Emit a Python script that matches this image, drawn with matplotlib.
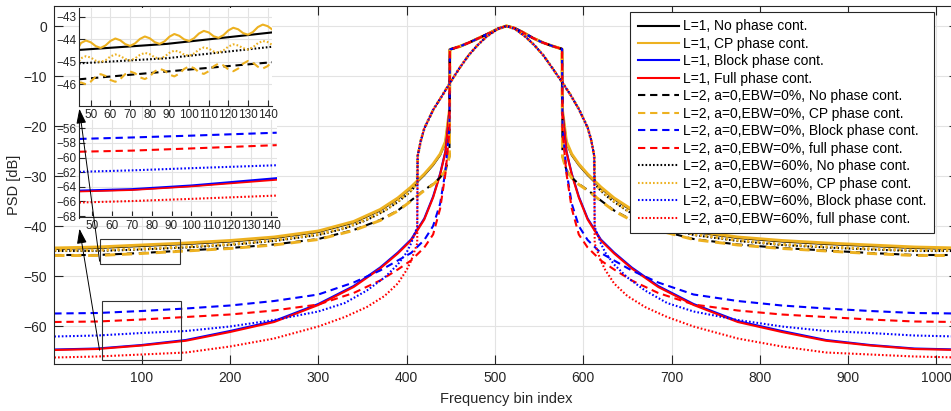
import matplotlib
matplotlib.use('Agg')
import matplotlib.pyplot as plt
from matplotlib.patches import Rectangle, FancyArrowPatch

plt.rcParams['font.family'] = ['Liberation Sans', 'DejaVu Sans']

# L=1 and L=2 EBW=0% curves share the narrow main lobe (edges at 449 / 576)
xa = [1, 50, 100, 150, 200, 250, 300, 340, 370, 390, 405, 420, 430, 438, 444, 448.5,
      449, 460, 471, 482, 494, 504, 513, 522, 532, 543, 554, 565, 576,
      576.5, 581, 587, 595, 605, 620, 635, 655, 685, 725, 775, 825, 875, 925, 975, 1024]
lobe_a = [-4.7, -4.1, -3.3, -2.4, -1.4, -0.5, 0, -0.4, -1.3, -2.4, -3.3, -4.0, -4.6]

k1_l = [-44.6, -44.4, -44.0, -43.6, -43.1, -42.4, -41.2, -39.3, -36.9, -34.6, -32.4, -29.8, -27.8, -25.8, -23.3, -17.0]
k1_r = [-17.0, -23.3, -25.8, -27.8, -29.8, -32.4, -34.6, -36.9, -39.3, -41.2, -42.4, -43.1, -43.6, -44.0, -44.4, -44.6]
y1_l = [-44.4, -44.2, -43.8, -43.4, -42.9, -42.2, -41.0, -39.1, -36.7, -34.4, -32.2, -29.6, -27.6, -25.6, -23.1, -16.8]
y1_r = [-16.8, -23.1, -25.6, -27.6, -29.6, -32.2, -34.4, -36.7, -39.1, -41.0, -42.2, -42.9, -43.4, -43.8, -44.2, -44.4]
b1_l = [-64.7, -64.5, -63.8, -62.8, -61.0, -59.0, -55.6, -52.0, -48.3, -45.3, -42.7, -38.5, -34.1, -29.5, -25.0, -17.0]
b1_r = [-17.0, -25.0, -29.5, -34.1, -38.5, -42.7, -45.3, -48.3, -52.0, -55.6, -59.0, -61.0, -62.8, -63.8, -64.5, -64.7]
r1_l = [-64.8, -64.6, -63.9, -62.95, -61.2, -59.2, -55.8, -52.2, -48.5, -45.5, -42.9, -38.7, -34.3, -29.7, -25.2, -17.0]
r1_r = [-17.0, -25.2, -29.7, -34.3, -38.7, -42.9, -45.5, -48.5, -52.2, -55.8, -59.2, -61.2, -62.95, -63.9, -64.6, -64.8]
k2_l = [-45.8, -45.8, -45.4, -44.9, -44.4, -43.7, -42.6, -40.8, -38.8, -36.9, -34.9, -32.8, -31.6, -30.3, -28.8, -26.0]
k2_r = [-26.0, -28.8, -30.3, -31.6, -32.8, -34.9, -36.9, -38.8, -40.8, -42.6, -43.7, -44.4, -44.9, -45.4, -45.8, -45.8]
y2_l = [-45.9, -45.9, -45.5, -45.0, -44.5, -43.8, -42.7, -40.9, -38.9, -37.0, -35.0, -32.9, -31.7, -30.4, -28.9, -26.1]
y2_r = [-26.1, -28.9, -30.4, -31.7, -32.9, -35.0, -37.0, -38.9, -40.9, -42.7, -43.8, -44.5, -45.0, -45.5, -45.9, -45.9]
b2_l = [-57.5, -57.4, -57.0, -56.5, -55.9, -55.0, -53.7, -51.3, -48.9, -46.9, -45.4, -42.8, -40.0, -35.5, -29.0, -20.0]
b2_r = [-20.0, -29.0, -35.5, -40.0, -42.8, -45.4, -46.9, -48.9, -51.3, -53.7, -55.0, -55.9, -56.5, -57.0, -57.4, -57.5]
r2_l = [-59.2, -59.1, -58.7, -58.2, -57.7, -56.9, -55.7, -53.4, -50.9, -48.7, -46.9, -44.3, -41.7, -36.5, -29.5, -21.0]
r2_r = [-21.0, -29.5, -36.5, -41.7, -44.3, -46.9, -48.7, -50.9, -53.4, -55.7, -56.9, -57.7, -58.2, -58.7, -59.1, -59.2]

# L=2 EBW=60% curves: wider main lobe (edges at 412.5 / 612.5)
xb = [1, 50, 100, 150, 200, 250, 300, 330, 355, 375, 390, 400, 405, 409, 412,
      412.5, 416, 420, 430, 440, 449, 460, 470, 480, 490, 502, 513, 523, 535, 545, 555, 565, 576, 585, 595, 605, 609, 612.5,
      613, 616, 620, 625, 635, 650, 670, 695, 725, 775, 825, 875, 925, 975, 1024]
lobe_b = [-26.0, -23.0, -20.5, -16.8, -14.0, -11.4, -8.4, -5.9, -3.9, -2.2, -0.7, 0, -0.6, -2.2, -3.9, -5.9,
          -8.4, -11.2, -13.6, -16.6, -20.3, -22.8, -26.0]

k3_l = [-45.0, -45.0, -44.7, -44.3, -43.8, -43.0, -41.8, -40.5, -38.8, -37.0, -35.2, -33.8, -33.0, -32.2, -31.4]
k3_r = [-31.4, -32.2, -33.0, -33.8, -35.2, -37.0, -38.8, -40.5, -41.8, -43.0, -43.8, -44.3, -44.7, -45.0, -45.0]
y3_l = [-44.85, -44.85, -44.55, -44.15, -43.65, -42.85, -41.65, -40.35, -38.65, -36.85, -35.05, -33.65, -32.85, -32.05, -31.25]
y3_r = [-31.25, -32.05, -32.85, -33.65, -35.05, -36.85, -38.65, -40.35, -41.65, -42.85, -43.65, -44.15, -44.55, -44.85, -44.85]
b3_l = [-62.1, -61.9, -61.4, -61.0, -60.1, -58.8, -57.1, -55.4, -52.9, -50.3, -47.7, -45.3, -43.5, -41.6, -40.2]
b3_r = [-40.2, -41.6, -43.5, -45.3, -47.7, -50.3, -52.9, -55.4, -57.1, -58.8, -60.1, -61.0, -61.4, -61.9, -62.1]
r3_l = [-66.3, -66.1, -65.7, -65.3, -64.1, -62.5, -60.1, -58.2, -56.2, -54.0, -51.5, -48.8, -47.0, -45.0, -43.5]
r3_r = [-43.5, -45.0, -47.0, -48.8, -51.5, -54.0, -56.2, -58.2, -60.1, -62.5, -64.1, -65.3, -65.7, -66.1, -66.3]

# upper inset (bins 44..142), black curves smooth, CP curves ripple
xi1s = [44, 88.7, 142.2]
k1_i = [-44.47, -44.2, -43.69]
k2_i = [-45.78, -45.433, -45.018]
k3_i = [-45.07, -44.84, -44.328]
xi1 = [44, 45, 47.5, 50, 52.5, 55, 57.5, 60, 62.5, 65, 67.5, 70, 72.5, 75, 77.5, 80, 82.5, 85, 87.5, 90,
       92.5, 95, 97.5, 100, 102.5, 105, 107.5, 110, 112.5, 115, 117.5, 120, 122.5, 125, 127.5, 130,
       132.5, 135, 137.5, 140, 142.2]
y1_i = [-44.32, -44.16, -44.05, -44.13, -44.30, -44.38, -44.27, -44.07, -43.96, -44.04, -44.21, -44.29,
        -44.18, -43.98, -43.87, -43.95, -44.12, -44.20, -44.09, -43.88, -43.76, -43.84, -44.00, -44.07,
        -43.95, -43.74, -43.62, -43.69, -43.86, -43.93, -43.81, -43.60, -43.48, -43.55, -43.72, -43.79,
        -43.67, -43.45, -43.34, -43.41, -43.55]
y2_i = [-45.95, -45.92, -46.00, -45.88, -45.66, -45.55, -45.63, -45.81, -45.89, -45.77, -45.55, -45.43,
        -45.51, -45.69, -45.77, -45.65, -45.43, -45.31, -45.39, -45.57, -45.65, -45.53, -45.32, -45.20,
        -45.28, -45.46, -45.54, -45.42, -45.20, -45.08, -45.16, -45.34, -45.42, -45.30, -45.08, -44.96,
        -45.04, -45.22, -45.30, -45.19, -44.99]
y3_i = [-44.97, -44.84, -44.75, -44.81, -44.95, -45.01, -44.93, -44.76, -44.67, -44.74, -44.87, -44.94,
        -44.85, -44.69, -44.60, -44.66, -44.80, -44.86, -44.77, -44.60, -44.50, -44.55, -44.68, -44.73,
        -44.63, -44.46, -44.36, -44.41, -44.54, -44.59, -44.49, -44.32, -44.22, -44.27, -44.39, -44.45,
        -44.35, -44.17, -44.07, -44.12, -44.24]

# lower inset
xi2 = [43.5, 70, 100, 143]
b1_i = [-64.55, -64.35, -63.85, -62.85]
r1_i = [-64.65, -64.45, -63.95, -63.05]
b2_i = [-57.45, -57.25, -57.0, -56.6]
r2_i = [-59.2, -59.05, -58.75, -58.3]
b3_i = [-61.95, -61.75, -61.45, -61.05]
r3_i = [-66.15, -65.95, -65.65, -65.2]

labels = ['L=1, No phase cont.', 'L=1, CP phase cont.', 'L=1, Block phase cont.', 'L=1, Full phase cont.',
          'L=2, a=0,EBW=0%, No phase cont.', 'L=2, a=0,EBW=0%, CP phase cont.',
          'L=2, a=0,EBW=0%, Block phase cont.', 'L=2, a=0,EBW=0%, full phase cont.',
          'L=2, a=0,EBW=60%, No phase cont.', 'L=2, a=0,EBW=60%, CP phase cont.',
          'L=2, a=0,EBW=60%, Block phase cont.', 'L=2, a=0,EBW=60%, full phase cont.']

K = 'black'
Y = '#EDB120'
B = 'blue'
R = 'red'
dash = (0, (3.5, 2.3))
dot = (0, (0.8, 1.0))

series = [(xa, k1_l + lobe_a + k1_r, K, '-'), (xa, y1_l + lobe_a + y1_r, Y, '-'),
          (xa, b1_l + lobe_a + b1_r, B, '-'), (xa, r1_l + lobe_a + r1_r, R, '-'),
          (xa, k2_l + lobe_a + k2_r, K, dash), (xa, y2_l + lobe_a + y2_r, Y, dash),
          (xa, b2_l + lobe_a + b2_r, B, dash), (xa, r2_l + lobe_a + r2_r, R, dash),
          (xb, k3_l + lobe_b + k3_r, K, dot), (xb, y3_l + lobe_b + y3_r, Y, dot),
          (xb, b3_l + lobe_b + b3_r, B, dot), (xb, r3_l + lobe_b + r3_r, R, dot)]

W, H = 951, 411
fig = plt.figure(figsize=(W / 100, H / 100), dpi=100)
ax = fig.add_axes([54.3 / W, 47 / H, 903.3 / W, 358 / H])

for (x, y, c, ls), lab in zip(series, labels):
    # CP curves ripple in the side lobes, drawn a bit wider in the full view
    ax.plot(x, y, color=c, linestyle=ls, lw=2.1 if c == Y else 1.5, label=lab)

ax.set_xlim(1, 1024)
ax.set_ylim(-67.6, 4)
ax.set_xticks(range(100, 1001, 100))
ax.set_yticks(range(-60, 1, 10))
ax.grid(True, color='#E3E3E3', lw=0.8)
ax.set_axisbelow(True)
ax.tick_params(direction='in', length=6.5, width=0.8, top=True, right=True, labelsize=10, colors='#262626', pad=5)
for s in ax.spines.values():
    s.set_color('#262626')
    s.set_linewidth(0.8)
ax.set_xlabel('Frequency bin index', fontsize=10.5, color='#262626', labelpad=5)
ax.set_ylabel('PSD [dB]', fontsize=10.5, color='#262626', labelpad=2)

ax.add_patch(Rectangle((52.8, -47.6), 90.9, 4.94, fill=False, ec='#333333', lw=0.8, zorder=5))
ax.add_patch(Rectangle((54.7, -66.8), 90.1, 11.86, fill=False, ec='#333333', lw=0.8, zorder=5))

leg = ax.legend(loc='upper right', bbox_to_anchor=(0.974, 0.984), borderaxespad=0, fontsize=10,
                handlelength=2.95, handletextpad=0.3, labelspacing=0.25, borderpad=0.55,
                fancybox=False, framealpha=1, edgecolor='#262626')
leg.get_frame().set_linewidth(0.8)
for h in leg.get_lines():
    h.set_linewidth(1.5)


def style_inset(a, xl, yl, yt):
    a.set_xlim(*xl)
    a.set_ylim(*yl)
    a.set_xticks(range(50, 141, 10))
    a.set_yticks(yt)
    a.grid(True, color='#E3E3E3', lw=0.8)
    a.set_axisbelow(True)
    a.tick_params(direction='in', length=4, width=0.8, labelsize=8.5, colors='#262626', pad=2)
    for side in ['top', 'right']:
        a.spines[side].set_visible(False)
    for side in ['left', 'bottom']:
        a.spines[side].set_color('#262626')
        a.spines[side].set_linewidth(0.8)


ax1 = fig.add_axes([79 / W, (H - 106) / H, 193 / W, 98 / H])
ax1.plot(xi1s, k1_i, color=K, lw=1.5)
ax1.plot(xi1, y1_i, color=Y, lw=1.5)
ax1.plot(xi1s, k2_i, color=K, lw=1.5, linestyle=dash)
ax1.plot(xi1, y2_i, color=Y, lw=1.5, linestyle=dash)
ax1.plot(xi1s, k3_i, color=K, lw=1.5, linestyle=dot)
ax1.plot(xi1, y3_i, color=Y, lw=1.5, linestyle=dot)
style_inset(ax1, (44, 142.2), (-46.97, -42.6), [-46, -45, -44, -43])

ax2 = fig.add_axes([79.3 / W, (H - 217.5) / H, 197.4 / W, 97.5 / H])
ax2.plot(xi2, b2_i, color=B, lw=1.5, linestyle=dash)
ax2.plot(xi2, r2_i, color=R, lw=1.5, linestyle=dash)
ax2.plot(xi2, b3_i, color=B, lw=1.5, linestyle=dot)
ax2.plot(xi2, b1_i, color=B, lw=1.8)
ax2.plot(xi2, r1_i, color=R, lw=1.2)
ax2.plot(xi2, r3_i, color=R, lw=1.5, linestyle=dot)
style_inset(ax2, (43.5, 143), (-68.2, -54.86), range(-68, -55, 2))

for (x0, y0), (x1, y1) in [((100, 264), (79, 106)), ((100, 353), (79, 226))]:
    arr = FancyArrowPatch((x0 / W, 1 - y0 / H), (x1 / W, 1 - y1 / H), transform=fig.transFigure,
                          arrowstyle='-|>,head_length=0.9,head_width=0.3', mutation_scale=10,
                          color='black', lw=0.7)
    fig.add_artist(arr)

fig.savefig('out.png', dpi=100)
